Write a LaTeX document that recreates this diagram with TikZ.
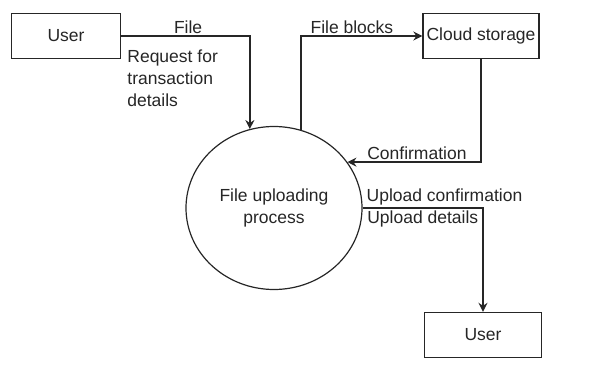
\documentclass[tikz,border=0pt]{standalone}
\usepackage{fontspec}
\setmainfont{Liberation Sans}
\usetikzlibrary{arrows.meta, shapes.geometric}

\begin{document}
\begin{tikzpicture}[x=1pt, y=-1pt,
    every node/.style={font=\fontsize{17.5}{22}\selectfont, text=black!85},
    entity/.style={draw=black!85, line width=1.4pt, minimum width=109pt, minimum height=45pt, inner sep=0pt},
    proc/.style={draw=black!85, line width=1.2pt, ellipse, minimum width=176pt, minimum height=163pt, inner sep=0pt, align=center},
    flow/.style={draw=black!85, line width=1.4pt, -{Stealth[length=9pt, width=9pt, inset=3pt]}},
    lbl/.style={inner sep=2pt}]
  \useasboundingbox (0,0) rectangle (603,377);
  \node[entity] (user) at (66,36) {User};
  \node[entity, minimum width=116pt] (cloud) at (481,36) {Cloud storage};
  \node[entity, minimum width=117pt] (user2) at (483,335) {User};
  \node[proc] (upload) at (274,208) {File uploading\\process};
  \draw[flow] (user.east) -| (upload.107) node[lbl, pos=0.26, above] {File};
  \node[lbl, align=left, anchor=north west] (req) at ([xshift=4pt, yshift=-12pt]user.east) {Request for\\transaction\\details};
  \draw[flow] (upload.71) |- (cloud.west) node[lbl, pos=0.71, above] {File blocks};
  \draw[flow] (cloud.south) |- (upload.32) node[lbl, pos=0.74, above] {Confirmation};
  \draw[flow] (upload.east) -| (user2.north)
    node[lbl, pos=0.34, above] {Upload confirmation}
    node[lbl, pos=0.25, below] {Upload details};
\end{tikzpicture}
\end{document}
